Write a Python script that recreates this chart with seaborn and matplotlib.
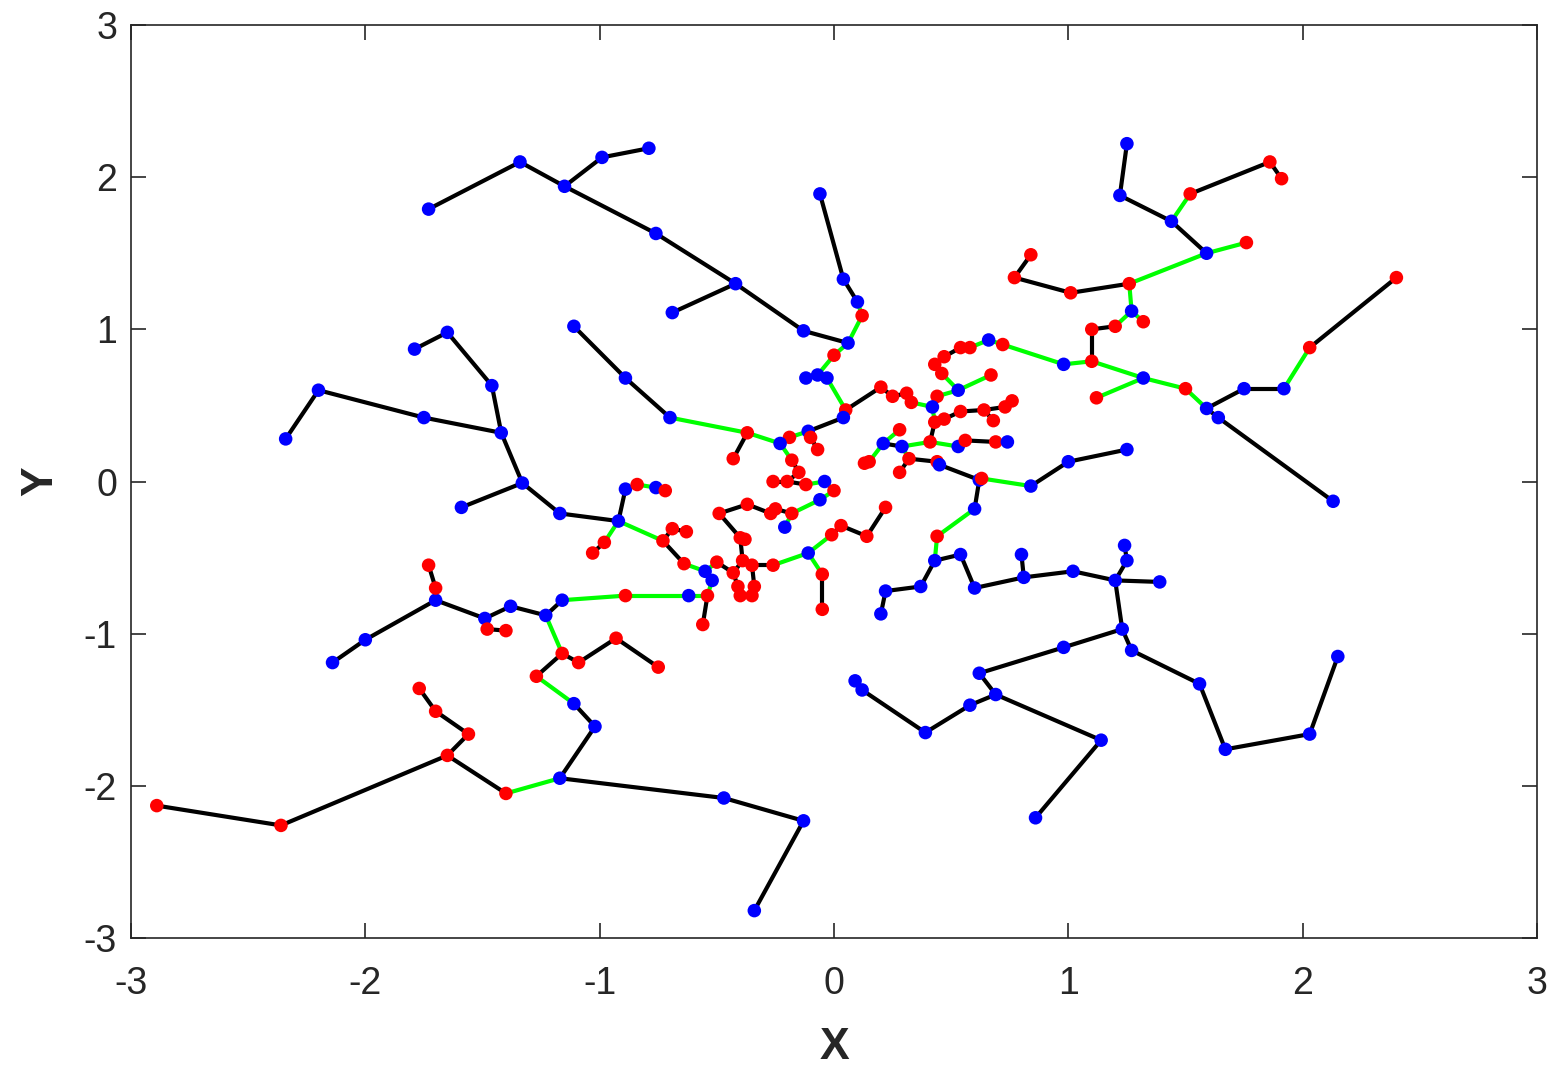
## ==========================================
## Tree / graph layout plot (MATLAB-like look)
## ==========================================

import numpy as np
import pandas as pd
import matplotlib
matplotlib.use("Agg")
import matplotlib.pyplot as plt
import seaborn as sns

## ==========================================
## Data : nodes (x, y, kind) and edges (from, to)
## ==========================================

node_x = [
    -1.73, -1.34, -1.15, -0.99, -0.79, -0.76, -0.42, -0.69, -0.13, 0.06,
    -0.06, 0.04, 0.10, 0.12, 0.00, -0.07, -0.12, -0.03, 0.05, 0.04,
    -0.11, -0.10, -0.07, -0.19, -0.23, -0.37, -0.43, -0.70, -0.89, -1.11,
    -0.18, -0.15, -0.20, -0.26, -0.12, -0.04, 0.00, -0.06, -0.18, -0.25,
    -0.21, -0.27, -0.37, -0.49, -0.40, -0.38, -0.39, -0.35, -0.26, -0.11,
    -0.05, -0.05, -0.01, 0.03, 0.14, 0.22, -0.43, -0.50, -0.41, -0.40,
    -0.34, -0.35, -0.55, -0.64, -0.52, -0.54, -0.56, -0.62, -0.89, -1.16,
    -1.23, -1.38, -1.49, -1.70, -1.70, -1.73, -2.00, -2.14, -1.48, -1.40,
    -1.16, -1.09, -0.93, -0.75, -1.27, -1.11, -1.02, -1.17, -1.40, -1.65,
    -1.56, -1.70, -1.77, -2.36, -2.89, -0.47, -0.13, -0.34, -2.34, -2.20,
    -1.75, -1.42, -1.79, -1.65, -1.46, -1.33, -1.59, -1.17, -0.92, -0.89,
    -0.84, -0.76, -0.72, -0.98, -1.03, -0.73, -0.69, -0.63, 1.25, 1.22,
    1.44, 1.52, 1.86, 1.91, 1.59, 1.76, 1.26, 1.01, 0.77, 0.84,
    1.27, 1.32, 1.20, 1.10, 1.10, 0.98, 1.32, 1.50, 1.12, 1.59,
    1.64, 2.13, 1.75, 1.92, 2.03, 2.40, 0.72, 0.66, 0.58, 0.54,
    0.47, 0.43, 0.46, 0.53, 0.67, 0.44, 0.42, 0.33, 0.31, 0.25,
    0.20, 0.43, 0.47, 0.54, 0.64, 0.68, 0.73, 0.76, 0.41, 0.53,
    0.56, 0.69, 0.74, 0.29, 0.21, 0.28, 0.15, 0.13, 0.32, 0.28,
    0.44, 0.45, 0.62, 0.63, 0.84, 1.00, 1.25, 0.60, 0.44, 0.43,
    0.54, 0.60, 0.81, 0.80, 1.02, 1.20, 1.39, 1.25, 1.24, 1.23,
    1.27, 1.56, 1.67, 2.03, 2.15, 0.98, 0.62, 0.69, 0.58, 0.39,
    0.12, 0.09, 1.14, 0.86, 0.37, 0.22, 0.20,
]

node_y = [
    1.79, 2.10, 1.94, 2.13, 2.19, 1.63, 1.30, 1.11, 0.99, 0.91,
    1.89, 1.33, 1.18, 1.09, 0.83, 0.70, 0.68, 0.68, 0.47, 0.42,
    0.33, 0.29, 0.21, 0.29, 0.25, 0.32, 0.15, 0.42, 0.68, 1.02,
    0.14, 0.06, 0.00, 0.00, -0.02, 0.00, -0.06, -0.12, -0.21, -0.18,
    -0.30, -0.21, -0.15, -0.21, -0.37, -0.38, -0.52, -0.55, -0.55, -0.47,
    -0.61, -0.84, -0.35, -0.29, -0.36, -0.17, -0.60, -0.53, -0.69, -0.75,
    -0.69, -0.75, -0.59, -0.54, -0.65, -0.75, -0.94, -0.75, -0.75, -0.78,
    -0.88, -0.82, -0.90, -0.78, -0.70, -0.55, -1.04, -1.19, -0.97, -0.98,
    -1.13, -1.19, -1.03, -1.22, -1.28, -1.46, -1.61, -1.95, -2.05, -1.80,
    -1.66, -1.51, -1.36, -2.26, -2.13, -2.08, -2.23, -2.82, 0.28, 0.60,
    0.42, 0.32, 0.87, 0.98, 0.63, -0.01, -0.17, -0.21, -0.26, -0.05,
    -0.02, -0.04, -0.06, -0.40, -0.47, -0.39, -0.31, -0.33, 2.22, 1.88,
    1.71, 1.89, 2.10, 1.99, 1.50, 1.57, 1.30, 1.24, 1.34, 1.49,
    1.12, 1.05, 1.02, 1.00, 0.79, 0.77, 0.68, 0.61, 0.55, 0.48,
    0.42, -0.13, 0.61, 0.61, 0.88, 1.34, 0.90, 0.93, 0.88, 0.88,
    0.82, 0.77, 0.71, 0.60, 0.70, 0.56, 0.49, 0.52, 0.58, 0.56,
    0.62, 0.39, 0.41, 0.46, 0.47, 0.40, 0.49, 0.53, 0.26, 0.23,
    0.27, 0.26, 0.26, 0.23, 0.25, 0.34, 0.13, 0.12, 0.15, 0.06,
    0.13, 0.11, 0.01, 0.02, -0.03, 0.13, 0.21, -0.18, -0.36, -0.52,
    -0.48, -0.70, -0.63, -0.48, -0.59, -0.65, -0.66, -0.52, -0.42, -0.97,
    -1.11, -1.33, -1.76, -1.66, -1.15, -1.09, -1.26, -1.40, -1.47, -1.65,
    -1.37, -1.31, -1.70, -2.21, -0.69, -0.72, -0.87,
]

node_kind = list(
    "bbbbbbbbbb"
    "bbbrrbbbrb"
    "brrrbrrbbb"
    "rrrrrbrbrr"
    "brrrrrrrrb"
    "rrrrrrrrrr"
    "rrbrbrrbrb"
    "bbbbrrbbrr"
    "rrrrrbbbrr"
    "rrrrrbbbbb"
    "bbbbbbbbbb"
    "rbrrrrrrbb"
    "brrrbrrrrr"
    "brrrrbbrrb"
    "bbbbrrrbrr"
    "rrrbrrbrrr"
    "rrrrrrrrrb"
    "rrbbbrrrrr"
    "rbbrbbbbrb"
    "bbbbbbbbbb"
    "bbbbbbbbbb"
    "bbbbbbb"
)

edge_from = [
    0, 1, 2, 3, 2, 5, 6, 6, 8,
    10, 11, 12, 13, 9, 14, 15, 15, 17, 18, 19, 20, 21, 20, 23, 24, 25, 25, 27, 28,
    24, 30, 31, 32, 32, 34, 35, 36, 37, 38, 38, 39, 41, 42, 43, 44, 44, 46, 47, 48,
    49, 50, 49, 52, 53, 54, 46, 56, 56, 58, 47, 60, 57, 62, 62, 64, 65, 65, 67, 68,
    69, 70, 71, 72, 73, 74, 73, 76, 78, 70, 80, 81, 82, 80, 84, 85, 86, 87, 88, 89,
    90, 91, 89, 93, 87, 95, 96,
    98, 99, 100, 102, 103, 104, 101, 105, 105, 107, 108, 109, 110, 111, 108, 113,
    108, 115, 116, 115,
    118, 119, 120, 121, 122, 120, 124, 124, 126, 127, 128, 126, 130, 130, 132, 133,
    134, 134, 136, 136, 137, 139, 140, 139, 142, 143, 144,
    135, 146, 147, 148, 149, 150, 151, 152, 153, 153, 155, 156, 157, 158, 159, 160,
    156, 161, 162, 163, 164, 164, 166, 161, 168, 169, 170, 171, 168, 173, 174, 174,
    176, 173, 178, 178, 180, 181, 182, 183, 184, 185, 182, 187, 188, 189, 190, 191,
    192, 192, 194, 195, 195, 197, 195, 199, 200, 201, 202, 203, 199, 205, 206, 207,
    208, 209, 210, 207, 212, 189, 214, 215,
]

edge_to = [
    1, 2, 3, 4, 5, 6, 7, 8, 9,
    11, 12, 13, 9, 14, 15, 16, 17, 18, 19, 20, 21, 22, 23, 24, 25, 26, 27, 28, 29,
    30, 31, 32, 33, 34, 35, 36, 37, 38, 39, 40, 41, 42, 43, 44, 45, 46, 47, 48, 49,
    50, 51, 52, 53, 54, 55, 56, 57, 58, 59, 60, 61, 62, 63, 64, 65, 66, 67, 68, 69,
    70, 71, 72, 73, 74, 75, 76, 77, 79, 80, 81, 82, 83, 84, 85, 86, 87, 88, 89, 90,
    91, 92, 93, 94, 95, 96, 97,
    99, 100, 101, 103, 104, 101, 105, 106, 107, 108, 109, 110, 111, 112, 113, 114,
    115, 116, 117, 63,
    119, 120, 121, 122, 123, 124, 125, 126, 127, 128, 129, 130, 131, 132, 133, 134,
    135, 136, 137, 138, 139, 140, 141, 142, 143, 144, 145,
    146, 147, 148, 149, 150, 151, 152, 153, 154, 155, 156, 157, 158, 159, 160, 18,
    161, 162, 163, 164, 165, 166, 167, 168, 169, 170, 171, 172, 173, 174, 175, 176,
    177, 178, 179, 180, 181, 182, 183, 184, 185, 186, 187, 188, 189, 190, 191, 192,
    193, 194, 195, 196, 197, 198, 199, 200, 201, 202, 203, 204, 205, 206, 207, 208,
    209, 210, 211, 212, 213, 214, 215, 216,
]

x_ticks = [-3, -2, -1, 0, 1, 2, 3]
y_ticks = [-3, -2, -1, 0, 1, 2, 3]

## ==========================================
## Build Data Frames
## ==========================================

df_nodes = pd.DataFrame({"x": node_x, "y": node_y, "kind": node_kind})

rows = []
for i, (a, b) in enumerate(zip(edge_from, edge_to)):
    link = "same" if node_kind[a] == node_kind[b] else "cross"
    rows.append([i, node_x[a], node_y[a], link])
    rows.append([i, node_x[b], node_y[b], link])

df_edges = pd.DataFrame(rows, columns=["edge", "x", "y", "link"])

## ==========================================
## Style
## ==========================================

sns.set_style("ticks")
plt.rcParams["font.family"] = ["Liberation Sans", "DejaVu Sans"]
plt.rcParams["axes.unicode_minus"] = False

dark = (0.15, 0.15, 0.15)

## ==========================================
## Plot
## ==========================================

fig = plt.figure(figsize=(15.61, 10.82), dpi=100)
ax = fig.add_axes([131 / 1561, 1 - 938 / 1082, 1406 / 1561, 913 / 1082])

sns.lineplot(
    data=df_edges,
    x="x",
    y="y",
    units="edge",
    estimator=None,
    sort=False,
    hue="link",
    palette={"same": "black", "cross": (0, 1, 0)},
    linewidth=3,
    legend=False,
    ax=ax,
)

sns.scatterplot(
    data=df_nodes,
    x="x",
    y="y",
    hue="kind",
    palette={"b": (0, 0, 1), "r": (1, 0, 0)},
    s=95,
    linewidth=0,
    legend=False,
    zorder=3,
    ax=ax,
)

ax.set_xlim(-3, 3)
ax.set_ylim(-3, 3)
ax.set_xticks(x_ticks)
ax.set_yticks(y_ticks)
ax.set_xticklabels([str(t) for t in x_ticks])
ax.set_yticklabels([str(t) for t in y_ticks])

ax.tick_params(
    direction="in",
    length=11,
    width=1.2,
    top=True,
    right=True,
    labelsize=27,
    colors=dark,
)
ax.tick_params(axis="x", pad=20)
ax.tick_params(axis="y", pad=10)

for side in ["top", "bottom", "left", "right"]:
    ax.spines[side].set_visible(True)
    ax.spines[side].set_color(dark)
    ax.spines[side].set_linewidth(1.2)

ax.set_xlabel("X", fontsize=32, fontweight="bold", color=dark, labelpad=18)
ax.set_ylabel("Y", fontsize=32, fontweight="bold", color=dark, labelpad=16)

fig.savefig("out.png", dpi=100)
plt.close()
